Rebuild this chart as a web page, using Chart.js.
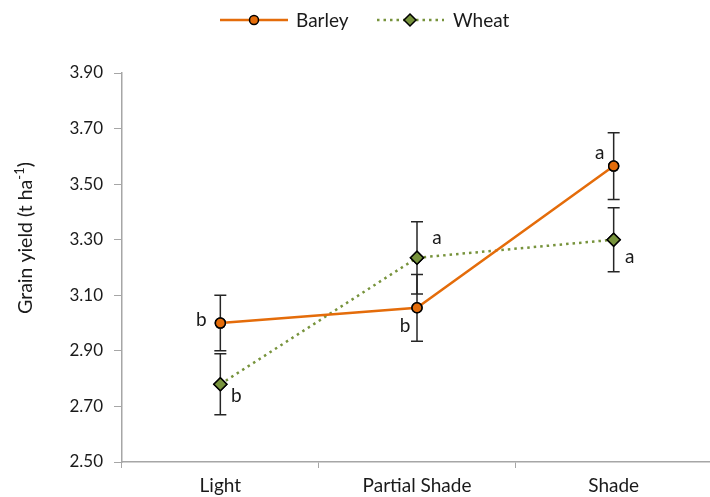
<!DOCTYPE html>
<html>
<head>
<meta charset="utf-8">
<script src="https://cdn.jsdelivr.net/npm/chart.js@4/dist/chart.umd.min.js"></script>
<style>
  html, body { margin: 0; padding: 0; background: #fff; overflow: hidden; }
  #wrap { width: 720px; height: 497px; position: relative; }
  #c { display: block; }
</style>
</head>
<body>
<div id="wrap"><canvas id="c" width="720" height="497" style="width:720px;height:497px"></canvas></div>
<script>
// Grain yield by light treatment
const categories = ['Light', 'Partial Shade', 'Shade'];
const barleyYield = [3.00, 3.055, 3.565];
const wheatYield = [2.78, 3.235, 3.30];
const barleyError = [0.10, 0.12, 0.12];
const wheatError = [0.11, 0.13, 0.115];
const barleyLetters = ['b', 'b', 'a'];
const wheatLetters = ['b', 'a', 'a'];
const yTicks = [2.50, 2.70, 2.90, 3.10, 3.30, 3.50, 3.70, 3.90];

const FONT = 'Lato, "Open Sans", sans-serif';
const ORANGE = '#E46C0A';
const GREEN = '#77933C';

// where each significance letter sits relative to its point (px)
const barleyLetterOffset = [[-19, -3], [-12, 18], [-14, -13]];
const wheatLetterOffset = [[16, 12], [20, -20], [16, 17]];

const extrasPlugin = {
  id: 'extras',
  afterDatasetsDraw(chart) {
    const ctx = chart.ctx;
    const x = chart.scales.x, y = chart.scales.y;
    // error bars
    const series = [[barleyYield, barleyError], [wheatYield, wheatError]];
    ctx.save();
    ctx.strokeStyle = '#262626';
    ctx.lineWidth = 1.5;
    series.forEach(([vals, errs]) => {
      vals.forEach((v, i) => {
        const px = x.getPixelForValue(i);
        const top = y.getPixelForValue(v + errs[i]);
        const bot = y.getPixelForValue(v - errs[i]);
        ctx.beginPath();
        ctx.moveTo(px, top); ctx.lineTo(px, bot);
        ctx.moveTo(px - 6, top); ctx.lineTo(px + 6, top);
        ctx.moveTo(px - 6, bot); ctx.lineTo(px + 6, bot);
        ctx.stroke();
      });
    });
    ctx.restore();
  },
  afterDraw(chart) {
    const ctx = chart.ctx;
    const x = chart.scales.x, y = chart.scales.y;
    ctx.save();
    // redraw markers above error bars
    chart.data.datasets.forEach((ds, di) => {
      chart.getDatasetMeta(di).data.forEach(pt => pt.draw(ctx));
    });
    // significance letters
    ctx.fillStyle = '#1a1a1a';
    ctx.font = '19px ' + FONT;
    ctx.textAlign = 'center';
    ctx.textBaseline = 'middle';
    const drawLetters = (vals, letters, offs) => {
      vals.forEach((v, i) => {
        const px = x.getPixelForValue(i);
        const py = y.getPixelForValue(v);
        ctx.fillText(letters[i], px + offs[i][0], py + offs[i][1]);
      });
    };
    drawLetters(barleyYield, barleyLetters, barleyLetterOffset);
    drawLetters(wheatYield, wheatLetters, wheatLetterOffset);

    // y-axis title with superscript
    ctx.save();
    ctx.translate(26, 238);
    ctx.rotate(-Math.PI / 2);
    ctx.textBaseline = 'middle';
    ctx.textAlign = 'left';
    const main = 'Grain yield (t ha';
    const sup = '-1';
    const tail = ')';
    ctx.font = '19.5px ' + FONT;
    const wMain = ctx.measureText(main).width;
    const wTail = ctx.measureText(tail).width;
    ctx.font = '13px ' + FONT;
    const wSup = ctx.measureText(sup).width;
    const total = wMain + wSup + wTail;
    let cx = -total / 2;
    ctx.font = '19.5px ' + FONT;
    ctx.fillText(main, cx, 0); cx += wMain;
    ctx.font = '13px ' + FONT;
    ctx.fillText(sup, cx, -6); cx += wSup;
    ctx.font = '19.5px ' + FONT;
    ctx.fillText(tail, cx, 0);
    ctx.restore();

    // legend
    const ly = 20;
    ctx.font = '19px ' + FONT;
    ctx.textAlign = 'left';
    ctx.textBaseline = 'middle';
    // Barley entry
    ctx.strokeStyle = ORANGE; ctx.lineWidth = 2.5; ctx.setLineDash([]);
    ctx.beginPath(); ctx.moveTo(220, ly); ctx.lineTo(288, ly); ctx.stroke();
    ctx.beginPath(); ctx.arc(254, ly, 4.5, 0, Math.PI * 2);
    ctx.fillStyle = ORANGE; ctx.fill();
    ctx.strokeStyle = '#000'; ctx.lineWidth = 1.5; ctx.stroke();
    ctx.fillStyle = '#1a1a1a';
    ctx.fillText('Barley', 296, ly + 1);
    // Wheat entry
    ctx.strokeStyle = GREEN; ctx.lineWidth = 2.5; ctx.setLineDash([2.5, 4]);
    ctx.beginPath(); ctx.moveTo(377, ly); ctx.lineTo(444, ly); ctx.stroke();
    ctx.setLineDash([]);
    ctx.beginPath();
    ctx.moveTo(410, ly - 6); ctx.lineTo(416, ly); ctx.lineTo(410, ly + 6); ctx.lineTo(404, ly);
    ctx.closePath();
    ctx.fillStyle = GREEN; ctx.fill();
    ctx.strokeStyle = '#000'; ctx.lineWidth = 1.5; ctx.stroke();
    ctx.fillStyle = '#1a1a1a';
    ctx.fillText('Wheat', 453, ly + 1);
    ctx.restore();
  }
};

new Chart(document.getElementById('c'), {
  type: 'line',
  data: {
    labels: categories,
    datasets: [
      {
        label: 'Barley',
        data: barleyYield,
        borderColor: ORANGE,
        borderWidth: 2.5,
        backgroundColor: ORANGE,
        pointStyle: 'circle',
        pointRadius: 5,
        pointBackgroundColor: ORANGE,
        pointBorderColor: '#000',
        pointBorderWidth: 1.5,
        tension: 0,
        fill: false
      },
      {
        label: 'Wheat',
        data: wheatYield,
        borderColor: GREEN,
        borderWidth: 2.5,
        borderDash: [2.5, 4],
        backgroundColor: GREEN,
        pointStyle: 'rectRot',
        pointRadius: 6.5,
        pointBackgroundColor: GREEN,
        pointBorderColor: '#000',
        pointBorderWidth: 1.5,
        tension: 0,
        fill: false
      }
    ]
  },
  options: {
    responsive: false,
    animation: false,
    devicePixelRatio: 1,
    layout: { padding: { top: 73, right: 1.5, bottom: 0, left: 0 } },
    plugins: {
      legend: { display: false },
      tooltip: { enabled: false }
    },
    scales: {
      x: {
        type: 'category',
        offset: true,
        grid: {
          display: true,
          drawOnChartArea: false,
          drawTicks: true,
          tickLength: 6,
          color: '#A6A6A6',
          offset: true
        },
        border: { color: '#A6A6A6', width: 1.5 },
        ticks: {
          color: '#1a1a1a',
          font: { family: FONT, size: 19 },
          padding: 6,
          maxRotation: 0
        },
        afterFit(s) { s.height = 35; }
      },
      y: {
        min: 2.5,
        max: 3.9,
        afterBuildTicks(s) { s.ticks = yTicks.map(v => ({ value: v })); },
        grid: {
          display: true,
          drawOnChartArea: false,
          drawTicks: true,
          tickLength: 8,
          color: '#A6A6A6'
        },
        border: { color: '#A6A6A6', width: 1.5 },
        ticks: {
          color: '#1a1a1a',
          font: { family: FONT, size: 17 },
          padding: 11,
          callback: v => Number(v).toFixed(2)
        },
        afterFit(s) { s.width = 122; }
      }
    }
  },
  plugins: [extrasPlugin]
});
</script>
</body>
</html>
